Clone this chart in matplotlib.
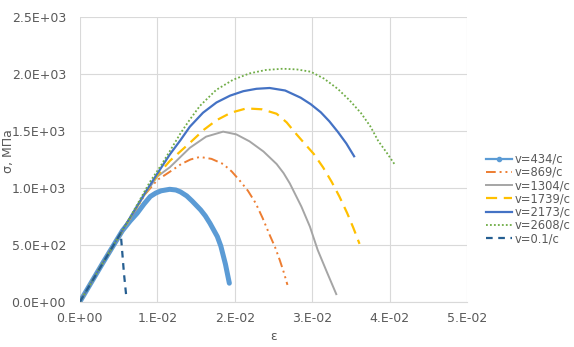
import matplotlib
matplotlib.use("Agg")
import matplotlib.pyplot as plt
from matplotlib.lines import Line2D
from matplotlib.ticker import FuncFormatter

# strain / stress points
eps_434 = [0, 0.003, 0.0055, 0.0065, 0.0074, 0.0083, 0.0091, 0.0098, 0.0105, 0.0116, 0.0124, 0.013,
           0.0138, 0.0145, 0.0156, 0.0162, 0.0168, 0.01775, 0.0182, 0.0188, 0.0193]
sig_434 = [0, 345, 625, 710, 778, 860, 925, 955, 975, 988, 982, 965,
           930, 885, 807, 755, 690, 573, 490, 330, 164]

eps_869 = [0, 0.003, 0.006, 0.0085, 0.01, 0.0108, 0.0118, 0.0131, 0.0143, 0.0155, 0.017, 0.0185,
           0.0196, 0.0206, 0.0217, 0.0227, 0.0236, 0.0245, 0.0252, 0.0258, 0.0263, 0.0268]
sig_869 = [0, 345, 680, 950, 1070, 1105, 1150, 1210, 1250, 1272, 1255, 1210,
           1145, 1068, 975, 866, 735, 588, 480, 368, 265, 149]

eps_1304 = [0, 0.003, 0.006, 0.0085, 0.01, 0.01163, 0.0142, 0.0163, 0.0185, 0.0202, 0.0219, 0.0237,
            0.0254, 0.0263, 0.0271, 0.0286, 0.0297, 0.0307, 0.0319, 0.0331]
sig_1304 = [0, 345, 680, 955, 1100, 1182, 1352, 1450, 1494, 1470, 1409, 1320,
            1210, 1130, 1040, 836, 660, 456, 260, 68]

eps_1739 = [0, 0.003, 0.006, 0.0085, 0.01, 0.01163, 0.0142, 0.016, 0.01764, 0.0195, 0.0215, 0.0235,
            0.0254, 0.0267, 0.0279, 0.029, 0.0302, 0.0314, 0.0325, 0.0335, 0.0345, 0.0353, 0.0361]
sig_1739 = [0, 345, 680, 960, 1110, 1238, 1395, 1510, 1594, 1660, 1698, 1690,
            1651, 1575, 1476, 1390, 1298, 1180, 1054, 925, 780, 650, 509]

eps_2173 = [0, 0.003, 0.006, 0.0085, 0.01, 0.01163, 0.013, 0.0142, 0.0159, 0.01764, 0.0194, 0.0211,
            0.0228, 0.0245, 0.0265, 0.0285, 0.0298, 0.0311, 0.0322, 0.0333, 0.0344, 0.0354]
sig_2173 = [0, 345, 685, 965, 1125, 1295, 1420, 1537, 1660, 1750, 1810, 1849,
            1870, 1877, 1855, 1792, 1735, 1664, 1585, 1492, 1390, 1278]

eps_2608 = [0, 0.003, 0.006, 0.00906, 0.0105, 0.01163, 0.013, 0.0142, 0.0155, 0.0176, 0.0198, 0.0219,
            0.024, 0.0262, 0.028, 0.0298, 0.0315, 0.0333, 0.0348, 0.0363, 0.0375, 0.0385, 0.0396, 0.0407]
sig_2608 = [0, 345, 685, 1054, 1200, 1324, 1480, 1600, 1720, 1860, 1950, 2005,
            2035, 2046, 2040, 2020, 1960, 1869, 1770, 1656, 1540, 1414, 1310, 1200]

eps_01 = [0, 0.00528, 0.0055, 0.0057, 0.0060]
sig_01 = [0, 603, 420, 250, 47]

labels = ["v=434/c", "v=869/c", "v=1304/c", "v=1739/c", "v=2173/c", "v=2608/c", "v=0.1/c"]
x_ticks = [0, 0.01, 0.02, 0.03, 0.04, 0.05]
y_ticks = [0, 500, 1000, 1500, 2000, 2500]

fig = plt.figure(figsize=(5.74, 3.47), dpi=100)
ax = fig.add_axes([0.139, 0.13, 0.675, 0.821])

ax.plot(eps_434, sig_434, color="#5B9BD5", lw=3.6, solid_capstyle="round", solid_joinstyle="round")
ax.plot(eps_869, sig_869, color="#ED7D31", lw=1.4, dashes=(5, 2, 1, 2, 1, 2))
ax.plot(eps_1304, sig_1304, color="#A5A5A5", lw=1.4)
ax.plot(eps_1739, sig_1739, color="#FFC000", lw=1.6, dashes=(5, 3))
ax.plot(eps_2173, sig_2173, color="#4472C4", lw=1.6)
ax.plot(eps_2608, sig_2608, color="#70AD47", lw=1.3, dashes=(1, 1.2))
ax.plot(eps_01, sig_01, color="#255E91", lw=1.6, dashes=(3, 2.5))

ax.set_xlim(0, 0.05)
ax.set_ylim(0, 2500)
ax.set_xticks(x_ticks)
ax.set_yticks(y_ticks)
ax.xaxis.set_major_formatter(FuncFormatter(lambda v, p: "0.E+00" if v == 0 else "%d.E-02" % round(v * 100)))
ax.yaxis.set_major_formatter(FuncFormatter(lambda v, p: "0.0E+00" if v == 0 else "%.1fE+%02d" % (v / 10 ** (len(str(int(v))) - 1), len(str(int(v))) - 1)))
ax.grid(True, color="#D9D9D9", lw=0.8)
ax.set_axisbelow(True)
for s in ["top", "right", "left"]:
    ax.spines[s].set_visible(False)
ax.spines["bottom"].set_color("#D9D9D9")
ax.tick_params(length=0, colors="#595959", labelsize=9)
ax.tick_params(axis="y", pad=10)
ax.tick_params(axis="x", pad=7)
ax.set_xlabel("ε", color="#595959", fontsize=9, labelpad=4)
ax.set_ylabel("σ, МПа", color="#595959", fontsize=9)
ax.yaxis.set_label_coords(-0.168, 0.53)

handles = [
    Line2D([], [], color="#5B9BD5", lw=1.6, marker="o", markersize=3),
    Line2D([], [], color="#ED7D31", lw=1.4, dashes=(5, 2, 1, 2, 1, 2)),
    Line2D([], [], color="#A5A5A5", lw=1.4),
    Line2D([], [], color="#FFC000", lw=1.6, dashes=(5, 3)),
    Line2D([], [], color="#4472C4", lw=1.6),
    Line2D([], [], color="#70AD47", lw=1.3, dashes=(1, 1.2)),
    Line2D([], [], color="#255E91", lw=1.6, dashes=(3, 2.5)),
]
leg = fig.legend(handles, labels, loc="upper left", bbox_to_anchor=(0.829, 0.59), frameon=False,
                 fontsize=8.3, handlelength=2.2, handletextpad=0.3, labelspacing=0.02)
for t in leg.get_texts():
    t.set_color("#595959")

fig.savefig("out.png", dpi=100)
